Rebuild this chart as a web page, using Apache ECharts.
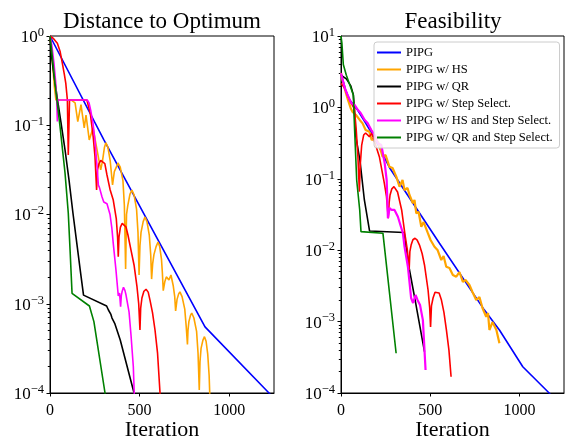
<!DOCTYPE html>
<html>
<head>
<meta charset="utf-8">
<script src="https://cdn.jsdelivr.net/npm/echarts@6/dist/echarts.min.js"></script>
<style>
html,body{margin:0;padding:0;background:#fff;}
#c{width:566px;height:439px;}
</style>
</head>
<body>
<div id="c"></div>
<script>
// ---------- Data: [iteration, value] ----------
const seriesNames = ['PIPG','PIPG w/ HS','PIPG w/ QR','PIPG w/ Step Select.','PIPG w/ HS and Step Select.','PIPG w/ QR and Step Select.'];
const xTicks = [0, 500, 1000];
const yTicksLeft = [1e-4, 1e-3, 1e-2, 1e-1, 1];
const yTicksRight = [1e-4, 1e-3, 1e-2, 1e-1, 1, 10];

// Distance to Optimum
const distPIPG = [[0,1],[300,0.0692],[865,0.00055],[1222,0.0001],[1230,0.0000955]];
const distHS = [[0,1],[10,0.631],[17,0.417],[25,0.263],[33,0.192],[117,0.192],[140,0.178],[155,0.110],[173,0.170],[191,0.0933],[201,0.130],[219,0.0684],[240,0.0933],[283,0.0316],[293,0.0398],[304,0.0568],[312,0.0637],[323,0.0568],[336,0.0398],[349,0.0214],[359,0.0302],[370,0.0339],[379,0.0378],[392,0.0339],[407,0.0240],[415,0.0126],[422,0.00245],[427,0.0100],[434,0.0126],[446,0.0168],[457,0.0188],[469,0.0166],[483,0.0115],[491,0.00631],[497,0.00210],[502,0.00447],[508,0.00631],[520,0.00832],[530,0.00938],[541,0.00832],[554,0.00589],[562,0.00355],[567,0.00189],[573,0.00282],[580,0.00355],[592,0.00437],[603,0.00492],[612,0.00437],[622,0.00316],[627,0.00224],[632,0.00140],[641,0.00178],[649,0.00200],[656,0.00210],[664,0.00185],[675,0.00210],[688,0.00158],[696,0.00120],[701,0.00083],[709,0.00112],[718,0.00129],[725,0.00136],[737,0.00120],[752,0.000871],[760,0.000562],[767,0.000349],[770,0.000501],[775,0.000631],[784,0.000741],[791,0.000787],[803,0.000692],[818,0.00049],[826,0.000282],[833,0.000108],[837,0.000224],[843,0.000316],[853,0.000389],[862,0.000428],[871,0.00038],[880,0.000275],[888,0.000158],[893,0.0000794]];
const distQR = [[0,1],[8,0.612],[22,0.366],[42,0.192],[61,0.1086],[84,0.0528],[106,0.0244],[128,0.0104],[152,0.00437],[170,0.00227],[187,0.00125],[316,0.000944],[326,0.000851],[339,0.000767],[346,0.000692],[361,0.000604],[392,0.000393],[469,0.0001],[472,0.0000891]];
const distStep = [[0,1],[20,0.933],[41,0.828],[56,0.676],[69,0.494],[80,0.372],[88,0.297],[97,0.192],[102,0.0465],[109,0.192],[206,0.192],[225,0.135],[241,0.0745],[251,0.0447],[260,0.0188],[265,0.0316],[273,0.0372],[283,0.0403],[294,0.0408],[306,0.0372],[318,0.0277],[335,0.0191],[353,0.0145],[370,0.00891],[377,0.00562],[381,0.00337],[385,0.00562],[393,0.00724],[403,0.00794],[413,0.00809],[424,0.00724],[435,0.00589],[452,0.00398],[469,0.00272],[485,0.00158],[495,0.001],[502,0.000508],[506,0.000891],[513,0.00116],[524,0.00138],[536,0.00145],[548,0.00135],[558,0.0011],[572,0.000794],[586,0.000508],[600,0.000282],[614,0.0001],[618,0.0000631]];
const distHSStep = [[0,1],[10,0.794],[22,0.501],[31,0.316],[37,0.209],[41,0.110],[42,0.192],[208,0.192],[218,0.178],[227,0.148],[240,0.105],[251,0.0684],[262,0.0355],[270,0.0214],[276,0.0200],[283,0.0191],[290,0.0158],[300,0.0138],[307,0.0135],[318,0.0132],[335,0.0100],[345,0.00708],[353,0.00475],[368,0.0024],[381,0.00122],[388,0.00132],[394,0.000927],[398,0.00123],[402,0.00136],[410,0.00153],[418,0.00141],[424,0.00126],[441,0.000813],[452,0.000447],[465,0.000197],[470,0.0001],[472,0.000063]];
const distQRStep = [[0,1],[9,0.697],[28,0.295],[56,0.0964],[84,0.029],[102,0.0104],[112,0.004],[123,0.00131],[220,0.000944],[245,0.000631],[307,0.0001],[309,0.0000891]];

// Feasibility
const feasPIPG = [[0,3.02],[26,1.754],[49,1.271],[93,0.92],[133,0.631],[172,0.437],[217,0.269],[273,0.1416],[552,0.0125],[804,0.00145],[888,0.000762],[1019,0.000233],[1168,0.0000991],[1175,0.0000933]];
const feasHS = [[0,3.03],[11,2.27],[26,1.644],[39,1.271],[54,0.982],[65,0.863],[84,0.783],[105,0.667],[121,0.598],[138,0.482],[159,0.457],[172,0.349],[187,0.372],[207,0.331],[222,0.253],[233,0.204],[250,0.215],[271,0.148],[289,0.1416],[310,0.107],[328,0.0774],[345,0.0962],[356,0.0697],[373,0.0743],[384,0.0593],[403,0.0454],[412,0.0505],[422,0.0329],[435,0.0343],[450,0.0213],[463,0.0248],[487,0.0173],[502,0.0139],[513,0.0148],[524,0.0112],[541,0.01007],[562,0.00729],[575,0.0083],[590,0.00587],[608,0.00564],[627,0.0045],[646,0.00426],[664,0.00495],[683,0.00359],[698,0.00383],[720,0.00326],[737,0.0026],[758,0.00201],[776,0.00221],[793,0.00155],[814,0.00117],[824,0.00132],[832,0.000762],[849,0.000986],[860,0.00105],[871,0.000762],[888,0.000497]];
const feasQR = [[0,2.84],[30,2.51],[55,2.0],[69,1.51],[75,1.0],[80,0.434],[106,0.183],[131,0.0505],[160,0.0186],[354,0.0177],[366,0.01064],[384,0.00528],[412,0.00223],[468,0.00038]];
const feasStep = [[0,2.17],[21,1.849],[39,1.413],[58,1.14],[75,0.955],[85,0.501],[95,0.1995],[103,0.0661],[108,0.158],[116,0.297],[127,0.41],[138,0.438],[159,0.389],[173,0.434],[194,0.297],[215,0.204],[243,0.0865],[255,0.0562],[265,0.028],[270,0.0468],[275,0.0593],[285,0.0724],[297,0.0776],[307,0.0741],[317,0.0653],[340,0.0366],[359,0.0163],[372,0.01],[382,0.00528],[386,0.00955],[393,0.0118],[403,0.014],[415,0.0147],[427,0.0138],[440,0.0118],[455,0.00891],[468,0.00621],[488,0.00277],[497,0.00158],[502,0.000839],[507,0.00166],[516,0.00214],[527,0.00257],[538,0.00274],[550,0.00251],[563,0.002],[577,0.00135],[591,0.000762],[605,0.000398],[617,0.000169]];
const feasHSStep = [[0,3.0],[21,1.871],[37,1.493],[57,1.153],[77,1.081],[95,0.92],[110,0.836],[133,0.667],[149,0.605],[170,0.482],[189,0.41],[207,0.314],[226,0.297],[245,0.1648],[256,0.0962],[263,0.028],[272,0.039],[284,0.0366],[300,0.0366],[319,0.0294],[347,0.0173],[356,0.0112],[375,0.00587],[393,0.00214],[404,0.00182],[418,0.00236],[429,0.00201],[443,0.00171],[459,0.00105],[474,0.00021]];
const feasQRStep = [[0,10],[5,7.94],[13,3.98],[30,2.82],[47,2.14],[69,1.49],[76,0.501],[88,0.0955],[105,0.0363],[112,0.0182],[235,0.0173],[244,0.0163],[309,0.00036]];

const colors = ['#0000ff','#ffa500','#000000','#ff0000','#ff00ff','#008000'];
const distData = [distPIPG, distHS, distQR, distStep, distHSStep, distQRStep];
const feasData = [feasPIPG, feasHS, feasQR, feasStep, feasHSStep, feasQRStep];

// ---------- Chart ----------
const FONT = 'Liberation Serif';
const rects = [{left: 50, top: 36, width: 224, height: 357}, {left: 341, top: 36, width: 223, height: 357}];
function minorValues(lo, hi) {
  const out = [];
  for (let e = lo; e < hi; e++) for (let m = 2; m <= 9; m++) out.push(+(m * Math.pow(10, e)).toPrecision(3));
  return out;
}
function logLabel(v) {
  const e = Math.round(Math.log10(v));
  return '{b|10}{s|' + (e < 0 ? '\u2212' + (-e) : e) + '}';
}
const richY = {
  b: {fontSize: 17, fontFamily: FONT, color: '#000', lineHeight: 20, verticalAlign: 'bottom'},
  s: {fontSize: 12.5, fontFamily: FONT, color: '#000', lineHeight: 11, verticalAlign: 'top'}
};
function xAxisOf(gi) {
  return {
    type: 'value', gridIndex: gi, min: 0, max: 1250,
    name: 'Iteration', nameLocation: 'middle', nameGap: 26, nameMoveOverlap: false,
    nameTextStyle: {fontFamily: FONT, fontSize: 22, color: '#000'},
    axisLine: {show: true, lineStyle: {color: '#000', width: 1}},
    axisTick: {show: true, length: 3.5, customValues: xTicks, lineStyle: {color: '#000'}},
    axisLabel: {customValues: xTicks, margin: 10, fontFamily: FONT, fontSize: 16, color: '#000', formatter: v => String(v)},
    splitLine: {show: false}
  };
}
function xHidden(gi) {
  return {type: 'value', gridIndex: gi, min: 0, max: 1250, show: false};
}
function yMain(gi, ticks) {
  return {
    type: 'log', logBase: 10, gridIndex: gi, position: 'left',
    min: ticks[0], max: ticks[ticks.length - 1],
    axisLine: {show: true, lineStyle: {color: '#000', width: 1}},
    axisTick: {show: true, length: 3.5, customValues: ticks, lineStyle: {color: '#000'}},
    axisLabel: {customValues: ticks, margin: 6, formatter: logLabel, rich: richY},
    splitLine: {show: false}
  };
}
function yMinor(gi, ticks) {
  return {
    type: 'log', logBase: 10, gridIndex: gi, position: 'left', offset: 0,
    min: ticks[0], max: ticks[ticks.length - 1],
    axisLine: {show: false},
    axisTick: {show: true, length: 2.2, customValues: minorValues(Math.round(Math.log10(ticks[0])), Math.round(Math.log10(ticks[ticks.length - 1]))), lineStyle: {color: '#000', width: 1}},
    axisLabel: {show: false},
    splitLine: {show: false}
  };
}
const series = [];
seriesNames.forEach((n, i) => {
  series.push({name: n, type: 'line', xAxisIndex: 0, yAxisIndex: 0, data: distData[i], showSymbol: false, symbol: 'none',
    lineStyle: {color: colors[i], width: 1.6}, itemStyle: {color: colors[i]}, z: 2 + i * 0.01, animation: false});
});
seriesNames.forEach((n, i) => {
  series.push({name: n, type: 'line', xAxisIndex: 1, yAxisIndex: 1, data: feasData[i], showSymbol: false, symbol: 'none',
    lineStyle: {color: colors[i], width: (i === 1 || i === 4) ? 2.2 : 1.6}, itemStyle: {color: colors[i]}, z: 2 + i * 0.01, animation: false});
});

const gridBase = {show: true, borderColor: '#000', borderWidth: 1, containLabel: false, outerBoundsMode: 'none'};
const chart = echarts.init(document.getElementById('c'), null, {renderer: 'canvas'});
chart.setOption({
  animation: false,
  backgroundColor: '#fff',
  title: [
    {text: 'Distance to Optimum', left: 157, top: 5, textAlign: 'center', textStyle: {fontFamily: FONT, fontSize: 23, fontWeight: 'normal', color: '#000'}},
    {text: 'Feasibility', left: 448, top: 5, textAlign: 'center', textStyle: {fontFamily: FONT, fontSize: 23, fontWeight: 'normal', color: '#000'}}
  ],
  legend: {
    data: seriesNames, orient: 'vertical', left: 374, top: 42,
    icon: 'rect', itemWidth: 24, itemHeight: 2, itemGap: 4,
    padding: [4, 7, 4, 3],
    backgroundColor: 'rgba(255,255,255,0.85)', borderColor: '#ccc', borderWidth: 1, borderRadius: 3,
    textStyle: {fontFamily: FONT, fontSize: 12.5, color: '#000', lineHeight: 12}
  },
  grid: [
    Object.assign({}, gridBase, rects[0]),
    Object.assign({}, gridBase, rects[1]),
    Object.assign({}, gridBase, rects[0], {show: false}),
    Object.assign({}, gridBase, rects[1], {show: false})
  ],
  xAxis: [xAxisOf(0), xAxisOf(1), xHidden(2), xHidden(3)],
  yAxis: [yMain(0, yTicksLeft), yMain(1, yTicksRight), yMinor(2, yTicksLeft), yMinor(3, yTicksRight)],
  series: series
});
</script>
</body>
</html>
